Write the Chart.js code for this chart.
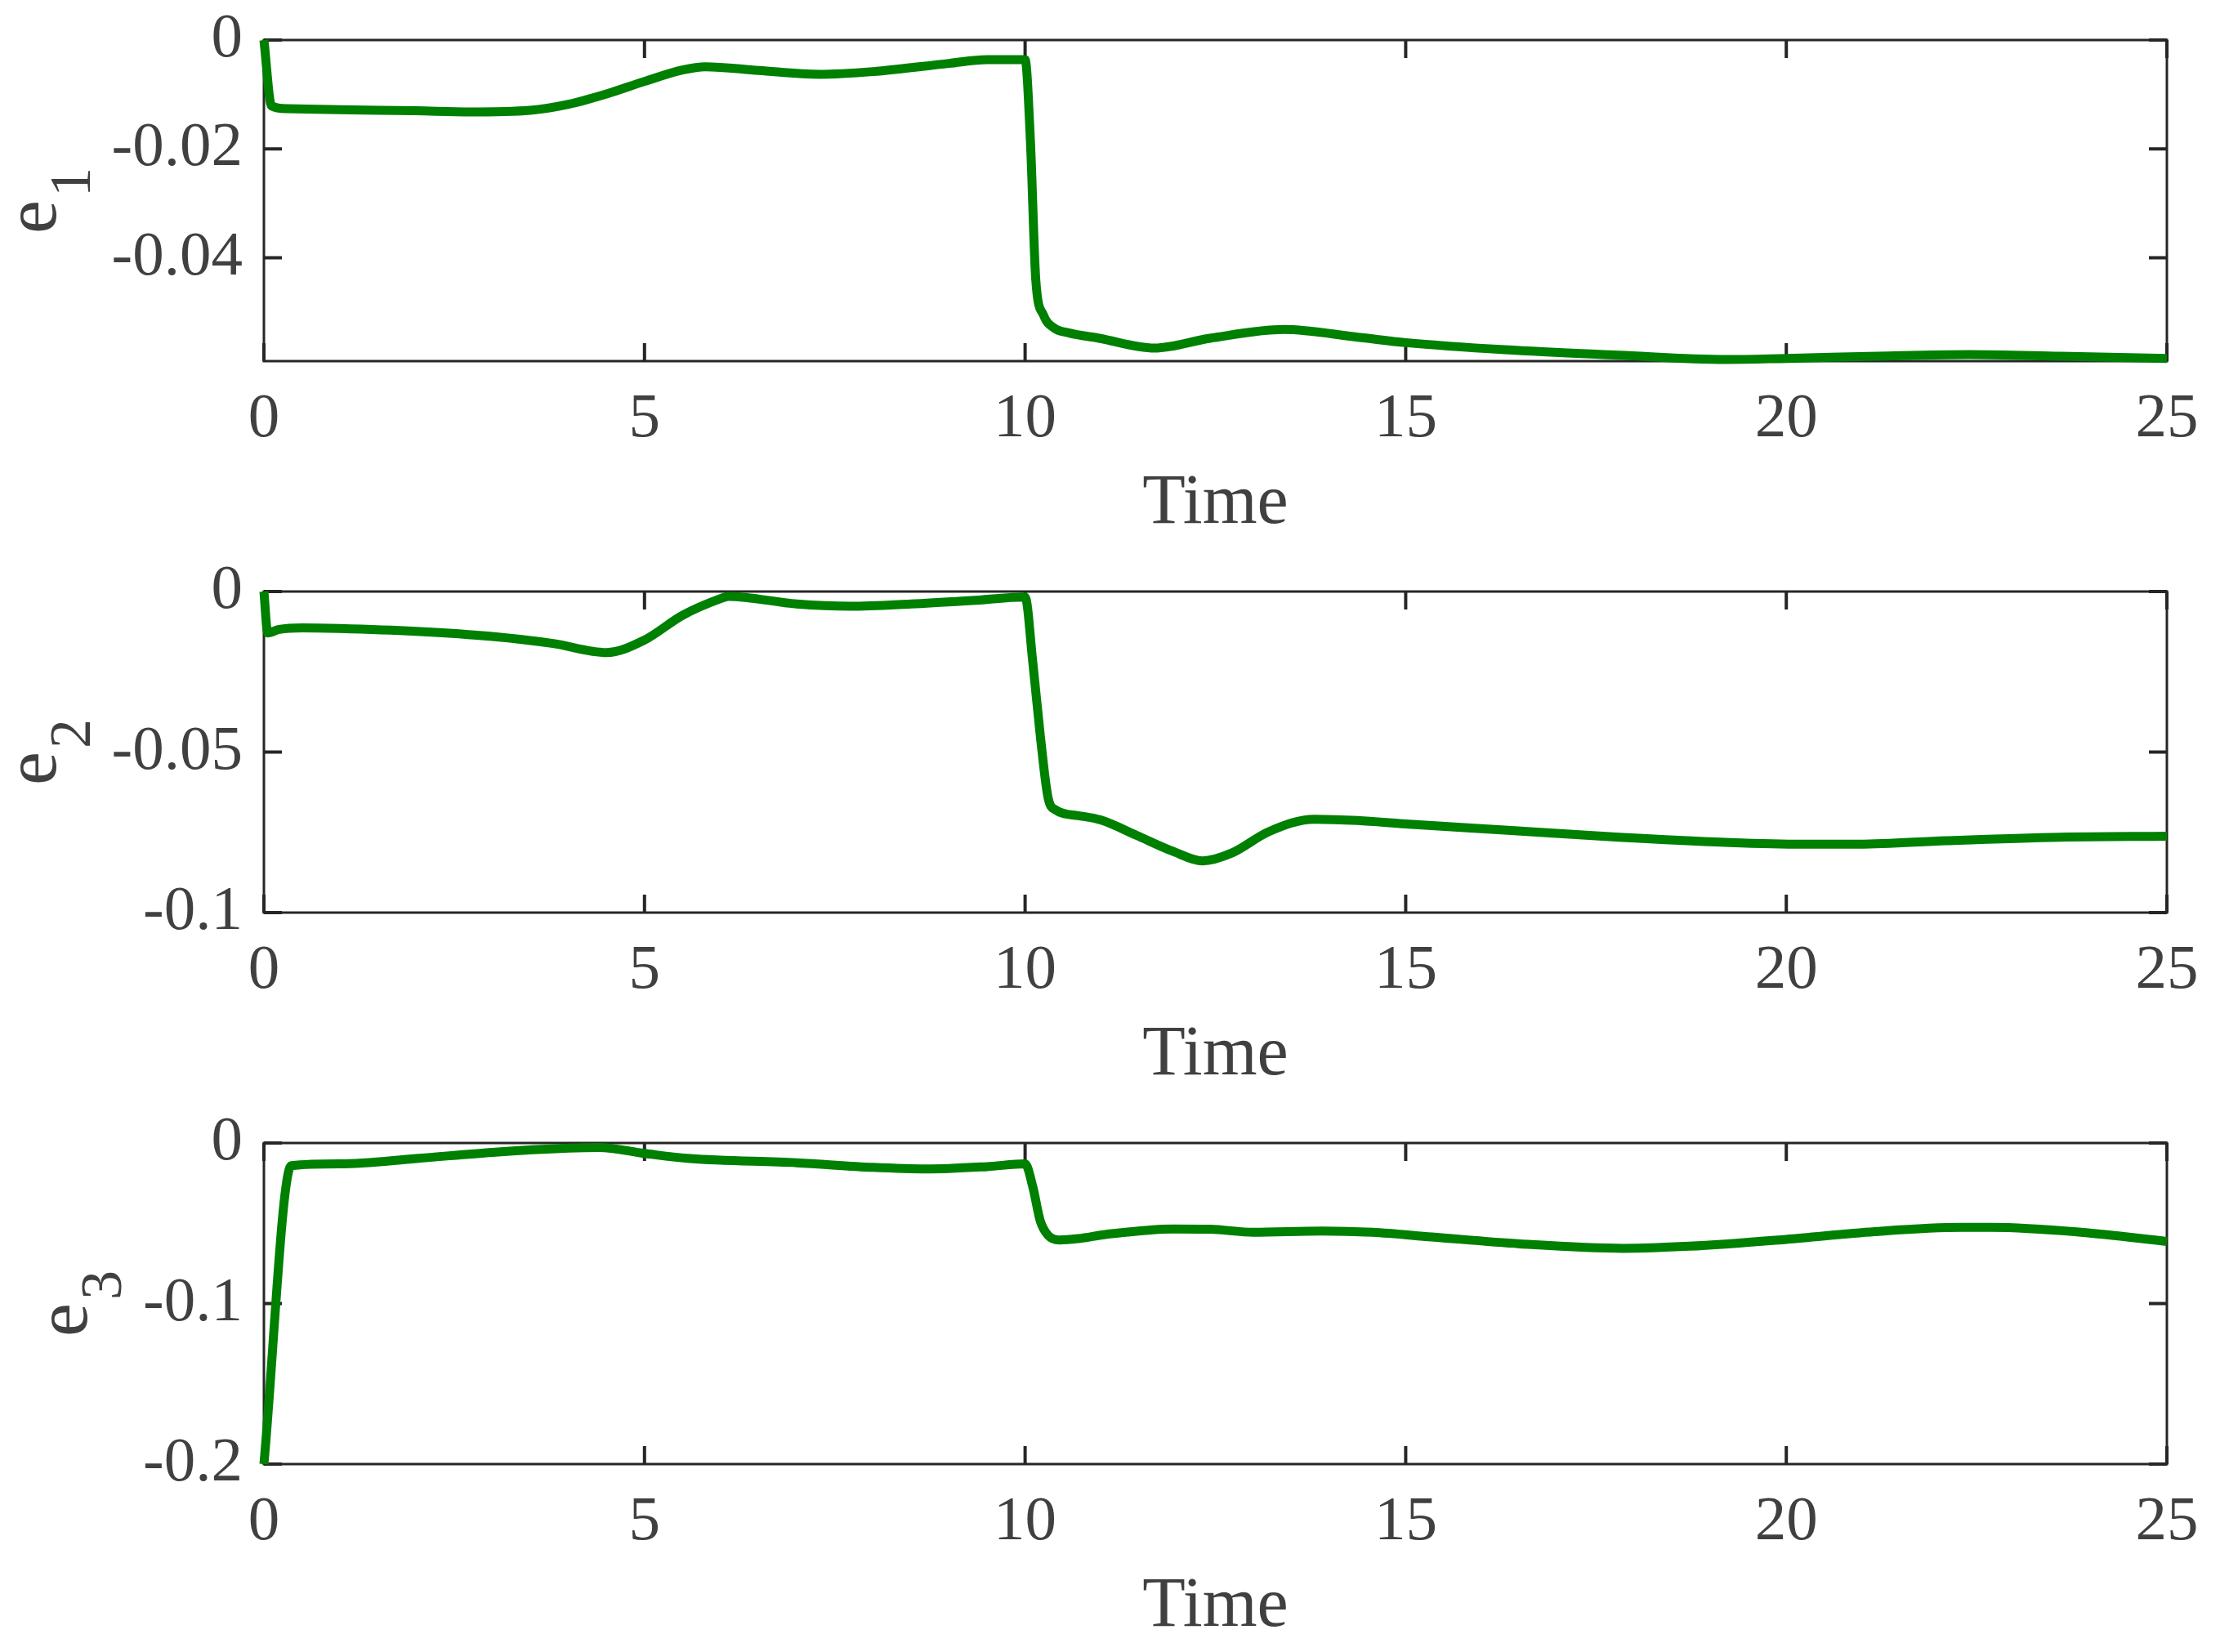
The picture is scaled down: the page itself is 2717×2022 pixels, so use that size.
<!DOCTYPE html>
<html>
<head>
<meta charset="utf-8">
<title>e1 e2 e3 vs Time</title>
<script src="https://cdn.jsdelivr.net/npm/chart.js@4.4.1/dist/chart.umd.min.js"></script>
<style>
  html, body { margin: 0; padding: 0; background: #ffffff; overflow: hidden; }
  body { width: 2717px; height: 2022px; position: relative; }
  canvas { position: absolute; left: 0; }
</style>
</head>
<body>
<canvas id="c1" width="2717" height="675" style="top:0px"></canvas>
<canvas id="c2" width="2717" height="675" style="top:675px"></canvas>
<canvas id="c3" width="2717" height="675" style="top:1350px"></canvas>
<script>
// x axis (Time) shared by all three panels
var timeTicks = [0, 5, 10, 15, 20, 25];
var timeTickLabels = ['0', '5', '10', '15', '20', '25'];

// e1
var e1Time = [0, 0.1, 0.3, 1, 2, 2.7, 3.5, 4, 4.5, 5, 5.5, 5.8, 6.5, 7.3, 8, 9, 9.5, 10,
  10.07, 10.14, 10.24, 10.38, 10.57, 10.97, 11.7, 12.43, 13.4, 14.37, 15, 16.3, 17.8,
  19.2, 20, 21.2, 22.4, 23.6, 25];
var e1Values = [0, -0.0121, -0.0126, -0.0128, -0.0130, -0.0132, -0.0129, -0.0118, -0.0099,
  -0.0076, -0.0055, -0.0049, -0.0056, -0.0063, -0.0058, -0.0043, -0.0036, -0.0036,
  -0.0186, -0.0440, -0.0505, -0.0529, -0.0538, -0.0548, -0.0566, -0.0548, -0.0532,
  -0.0546, -0.0556, -0.0569, -0.0579, -0.0587, -0.0585, -0.0581, -0.0578, -0.0581, -0.0585];
var e1Ticks = [0, -0.02, -0.04];
var e1TickLabels = ['0', '-0.02', '-0.04'];

// e2
var e2Time = [0, 0.05, 0.2, 0.5, 1, 2, 3, 3.8, 4.5, 5, 5.5, 6, 6.1, 7, 7.7, 8.5, 9.3, 10,
  10.1, 10.2, 10.3, 10.4, 10.7, 11, 11.46, 11.94, 12.33, 12.72, 13.2, 13.8, 14.37, 15,
  16.3, 17.8, 19.2, 20.2, 20.96, 22.1, 23.6, 25];
var e2Values = [0, -0.0129, -0.0118, -0.0113, -0.0115, -0.0124, -0.0140, -0.0162, -0.0190,
  -0.0151, -0.0074, -0.0022, -0.0015, -0.0039, -0.0046, -0.0039, -0.0028, -0.0017,
  -0.0218, -0.0450, -0.0640, -0.0680, -0.0698, -0.0712, -0.0759, -0.0809, -0.0839,
  -0.0814, -0.0748, -0.0709, -0.0713, -0.0724, -0.0743, -0.0765, -0.0781, -0.0787,
  -0.0787, -0.0776, -0.0765, -0.0762];
var e2Ticks = [0, -0.05, -0.1];
var e2TickLabels = ['0', '-0.05', '-0.1'];

// e3
var e3Time = [0, 0.36, 1, 2, 3, 4, 4.4, 5, 5.6, 7, 8, 8.7, 9.5, 10, 10.1, 10.2, 10.3, 10.45,
  10.7, 11.07, 11.94, 12.43, 13, 13.9, 14.56, 15.34, 16.5, 17.86, 18.73, 20, 21.16, 22.3,
  22.7, 23.87, 25];
var e3Values = [-0.2, -0.0141, -0.0130, -0.0097, -0.0058, -0.0032, -0.0028, -0.0065, -0.0097,
  -0.0123, -0.0152, -0.0162, -0.0147, -0.0130, -0.0271, -0.0487, -0.0574, -0.0604,
  -0.0595, -0.0569, -0.0535, -0.0537, -0.0556, -0.0548, -0.0556, -0.0585, -0.0628,
  -0.0656, -0.0643, -0.0600, -0.0552, -0.0526, -0.0526, -0.0556, -0.0613];
var e3Ticks = [0, -0.1, -0.2];
var e3TickLabels = ['0', '-0.1', '-0.2'];

var FONT = "'Liberation Serif', 'Times New Roman', serif";
var TEXT_COLOR = '#404040';
var AXIS_COLOR = '#262626';

// MATLAB style box with inward ticks on all four sides
var boxAxes = {
    id: 'boxAxes',
    beforeDatasetsDraw: function(chart) {
        var ctx = chart.ctx;
        var a = chart.chartArea;
        var len = 22;
        ctx.save();
        ctx.strokeStyle = AXIS_COLOR;
        ctx.lineWidth = 3;
        ctx.strokeRect(a.left, a.top, a.right - a.left, a.bottom - a.top);
        ctx.lineWidth = 4;
        ctx.beginPath();
        chart.scales.x.ticks.forEach(function(t) {
            var px = chart.scales.x.getPixelForValue(t.value);
            ctx.moveTo(px, a.bottom); ctx.lineTo(px, a.bottom - len);
            ctx.moveTo(px, a.top); ctx.lineTo(px, a.top + len);
        });
        chart.scales.y.ticks.forEach(function(t) {
            var py = chart.scales.y.getPixelForValue(t.value);
            ctx.moveTo(a.left, py); ctx.lineTo(a.left + len, py);
            ctx.moveTo(a.right, py); ctx.lineTo(a.right - len, py);
        });
        ctx.stroke();
        ctx.restore();
    }
};

// rotated y label with a subscript, e.g. e_1
var subLabel = {
    id: 'subLabel',
    afterDraw: function(chart, args, opts) {
        var ctx = chart.ctx;
        var a = chart.chartArea;
        ctx.save();
        ctx.font = '77px ' + FONT;
        var maxW = 0;
        chart.scales.y.ticks.forEach(function(t) {
            maxW = Math.max(maxW, ctx.measureText(t.label).width);
        });
        var subBase = a.left - 26 - maxW - 27;
        var drop = 42;
        ctx.translate(subBase - drop, (a.top + a.bottom) / 2);
        ctx.rotate(-Math.PI / 2);
        ctx.fillStyle = TEXT_COLOR;
        ctx.textBaseline = 'alphabetic';
        ctx.textAlign = 'left';
        ctx.font = '92px ' + FONT;
        var wMain = ctx.measureText(opts.main).width;
        ctx.font = '72px ' + FONT;
        var wSub = ctx.measureText(opts.sub).width;
        var start = -(wMain + 4 + wSub) / 2;
        ctx.font = '92px ' + FONT;
        ctx.fillText(opts.main, start, 0);
        ctx.font = '72px ' + FONT;
        ctx.fillText(opts.sub, start + wMain + 4, drop);
        ctx.restore();
    }
};

function makePanel(id, times, values, yMin, yTicks, yTickLabels, subText) {
    var points = times.map(function(t, i) { return {x: t, y: values[i]}; });
    new Chart(document.getElementById(id), {
        type: 'line',
        data: {
            datasets: [{
                data: points,
                borderColor: '#008000',
                borderWidth: 11,
                pointRadius: 0,
                cubicInterpolationMode: 'monotone',
                fill: false,
                clip: 8
            }]
        },
        options: {
            responsive: false,
            devicePixelRatio: 1,
            animation: false,
            layout: { padding: { top: 49, right: 65, left: 0, bottom: 0 } },
            plugins: {
                legend: { display: false },
                tooltip: { enabled: false },
                subLabel: { main: 'e', sub: subText }
            },
            scales: {
                x: {
                    type: 'linear',
                    min: 0,
                    max: 25,
                    grid: { display: false, drawTicks: false },
                    border: { display: false },
                    afterBuildTicks: function(scale) {
                        scale.ticks = timeTicks.map(function(v) { return {value: v}; });
                    },
                    afterFit: function(scale) {
                        scale.height = 233;
                        scale.paddingLeft = 0;
                        scale.paddingRight = 0;
                    },
                    ticks: {
                        autoSkip: false,
                        maxRotation: 0,
                        padding: 26,
                        color: TEXT_COLOR,
                        font: { family: FONT, size: 77 },
                        callback: function(v, i) { return timeTickLabels[i]; }
                    },
                    title: {
                        display: true,
                        text: 'Time',
                        color: TEXT_COLOR,
                        font: { family: FONT, size: 86 },
                        padding: { top: 0, bottom: 6 }
                    }
                },
                y: {
                    type: 'linear',
                    min: yMin,
                    max: 0,
                    grid: { display: false, drawTicks: false },
                    border: { display: false },
                    afterBuildTicks: function(scale) {
                        scale.ticks = yTicks.map(function(v) { return {value: v}; });
                    },
                    afterFit: function(scale) {
                        scale.width = 323;
                        scale.paddingTop = 0;
                        scale.paddingBottom = 0;
                    },
                    ticks: {
                        autoSkip: false,
                        padding: 26,
                        color: TEXT_COLOR,
                        font: { family: FONT, size: 77 },
                        callback: function(v, i) { return yTickLabels[i]; }
                    }
                }
            }
        },
        plugins: [boxAxes, subLabel]
    });
}

makePanel('c1', e1Time, e1Values, -0.059, e1Ticks, e1TickLabels, '1');
makePanel('c2', e2Time, e2Values, -0.1, e2Ticks, e2TickLabels, '2');
makePanel('c3', e3Time, e3Values, -0.2, e3Ticks, e3TickLabels, '3');
</script>
</body>
</html>
